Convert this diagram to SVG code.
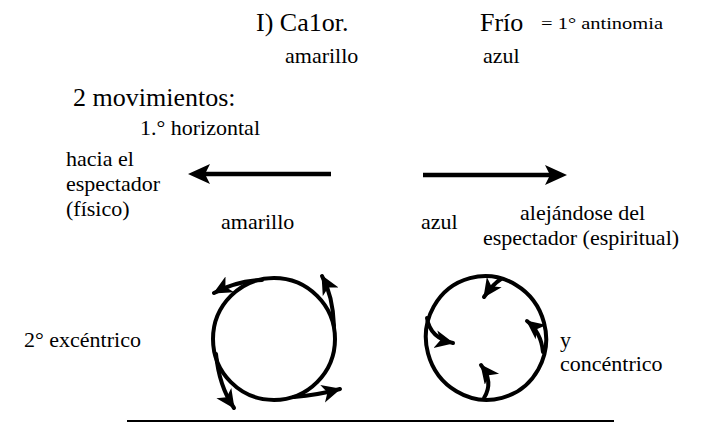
<svg xmlns="http://www.w3.org/2000/svg" width="702" height="424" viewBox="0 0 702 424">
<style>
text{font-family:"Liberation Serif","Times New Roman",serif;fill:#000}
.big{font-size:26px}
.mid{font-size:22px}
.sm{font-size:16px}
.stroke{fill:none;stroke:#000;stroke-width:4;stroke-linecap:round}
.shaft{stroke:#000;stroke-width:4.5;fill:none}
</style>
<defs>
<marker id="head" markerUnits="userSpaceOnUse" markerWidth="22" markerHeight="20" refX="18" refY="9" orient="auto" viewBox="0 0 22 20">
<path d="M0,0 L19,9 L0,18 L5,9 z" fill="#000"/>
</marker>
</defs>
<rect width="702" height="424" fill="#fff"/>

<g id="titulo">
<text class="big" x="256" y="31">I) Ca1or.</text>
<text class="big" x="480" y="31">Frío</text>
<text class="sm" x="541" y="29" textLength="122" lengthAdjust="spacingAndGlyphs">= 1° antinomia</text>
<text class="mid" x="285" y="63">amarillo</text>
<text class="mid" x="483" y="63">azul</text>
</g>

<g id="movimientos">
<text class="big" x="73" y="106">2 movimientos:</text>
<text class="mid" x="140" y="135">1.° horizontal</text>
</g>

<g id="hacia">
<text class="mid" x="66" y="166">hacia el</text>
<text class="mid" x="66" y="191">espectador</text>
<text class="mid" x="66" y="216">(físico)</text>
</g>

<g id="alejandose">
<text class="mid" x="520" y="220">alejándose del</text>
<text class="mid" x="483" y="245">espectador (espiritual)</text>
</g>

<g id="etiquetas">
<text class="mid" x="221" y="229">amarillo</text>
<text class="mid" x="421" y="229">azul</text>
</g>

<g id="excentrico">
<text class="mid" x="24" y="347">2° excéntrico</text>
<circle class="stroke" cx="274" cy="339" r="61"/>
<path class="stroke" d="M262,280 Q236,281 214,293" marker-end="url(#head)"/>
<path class="stroke" d="M334,326 Q333,296 322,276" marker-end="url(#head)"/>
<path class="stroke" d="M216,354 Q219,386 234,408" marker-end="url(#head)"/>
<path class="stroke" d="M294,397 Q318,395 340,389" marker-end="url(#head)"/>
</g>

<g id="concentrico">
<text class="mid" x="560" y="347">y</text>
<text class="mid" x="560" y="371">concéntrico</text>
<ellipse class="stroke" cx="486" cy="338" rx="60" ry="62" transform="rotate(-15 486 338)"/>
<path class="stroke" d="M501,279 Q493,284 484,297" marker-end="url(#head)"/>
<path class="stroke" d="M427,318 Q430,338 453,343" marker-end="url(#head)"/>
<path class="stroke" d="M543,352 Q541,332 527,321" marker-end="url(#head)"/>
<path class="stroke" d="M484,398 Q494,382 481,365" marker-end="url(#head)"/>
</g>

<g id="connectors">
<line class="shaft" x1="331" y1="174" x2="200" y2="174"/>
<polygon points="188,174 210,164 205,174 210,184" fill="#000"/>
<line class="shaft" x1="423" y1="175" x2="555" y2="175"/>
<polygon points="567,175 545,165 550,175 545,185" fill="#000"/>
</g>

<line x1="127" y1="421" x2="614" y2="421" stroke="#000" stroke-width="2"/>
</svg>
